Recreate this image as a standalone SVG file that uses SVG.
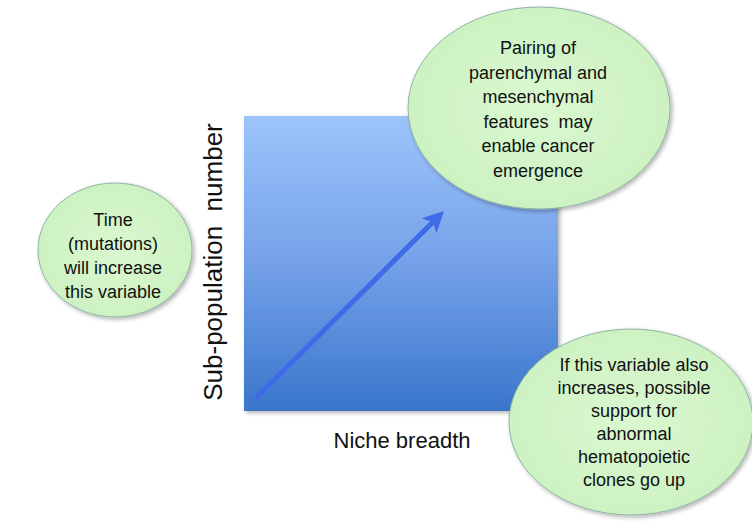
<svg xmlns="http://www.w3.org/2000/svg" width="752" height="523" viewBox="0 0 752 523">
<defs>
<linearGradient id="sq" x1="0" y1="0" x2="0" y2="1">
<stop offset="0" stop-color="#9dc4fb"/>
<stop offset="0.5" stop-color="#74a1e8"/>
<stop offset="1" stop-color="#3a76cc"/>
</linearGradient>
<radialGradient id="gr" cx="0.5" cy="0.5" r="0.5">
<stop offset="0" stop-color="#daf8d0"/>
<stop offset="1" stop-color="#cdf2c2"/>
</radialGradient>
<filter id="sh" x="-10%" y="-10%" width="125%" height="125%">
<feDropShadow dx="2" dy="2" stdDeviation="2" flood-color="#000" flood-opacity="0.3"/>
</filter>
<marker id="ah" viewBox="0 0 10 10" refX="6" refY="5" markerWidth="4.2" markerHeight="4.2" orient="auto" markerUnits="strokeWidth">
<path d="M0,0 L10,5 L0,10 L2.5,5 Z" fill="#3f6ae8"/>
</marker>
</defs>
<style>
.bub{fill:url(#gr);stroke:#8fb3a2;stroke-width:1;filter:url(#sh)}
.t{font-family:"Liberation Sans",Arial,sans-serif;font-size:18px;fill:#111;text-anchor:middle}
.ax{font-family:"Liberation Sans",Arial,sans-serif;font-size:22px;fill:#111;text-anchor:middle}
.ay{font-size:26px}
</style>
<g id="plot">
<rect x="244" y="116" width="314" height="295" fill="url(#sq)" filter="url(#sh)"/>
</g>
<g id="connectors">
<line x1="257" y1="397" x2="438" y2="217" stroke="#3f6ae8" stroke-width="5" stroke-linecap="round" marker-end="url(#ah)"/>
</g>
<g id="axis-x">
<text class="ax" x="402" y="448">Niche breadth</text>
</g>
<g id="axis-y">
<text class="ax ay" transform="translate(222,262) rotate(-90)" xml:space="preserve">Sub-population  number</text>
</g>
<g id="node-top">
<ellipse class="bub" cx="539" cy="108" rx="131" ry="101"/>
<text class="t" x="538" y="54">Pairing of</text>
<text class="t" x="538" y="78.5">parenchymal and</text>
<text class="t" x="538" y="103">mesenchymal</text>
<text class="t" x="538" y="127.5" xml:space="preserve">features  may</text>
<text class="t" x="538" y="152">enable cancer</text>
<text class="t" x="538" y="176.5">emergence</text>
</g>
<g id="node-left">
<ellipse class="bub" cx="115" cy="250" rx="77" ry="67"/>
<text class="t" x="113" y="226">Time</text>
<text class="t" x="113" y="250">(mutations)</text>
<text class="t" x="113" y="274">will increase</text>
<text class="t" x="113" y="298">this variable</text>
</g>
<g id="node-bottom">
<ellipse class="bub" cx="631" cy="422" rx="122" ry="93"/>
<text class="t" x="634" y="371">If this variable also</text>
<text class="t" x="634" y="394">increases, possible</text>
<text class="t" x="634" y="417">support for</text>
<text class="t" x="634" y="440">abnormal</text>
<text class="t" x="634" y="463">hematopoietic</text>
<text class="t" x="634" y="486">clones go up</text>
</g>
</svg>
